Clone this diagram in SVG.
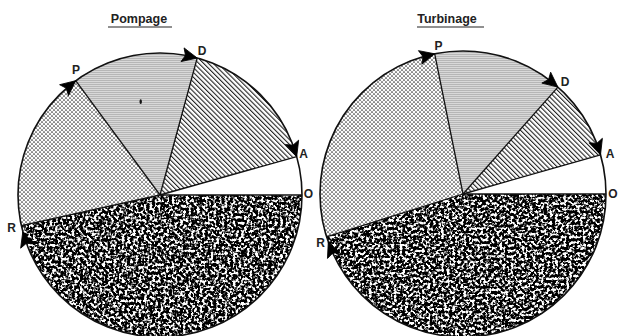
<svg xmlns="http://www.w3.org/2000/svg" width="618" height="336" viewBox="0 0 618 336">
<style>
.title{font-family:"Liberation Sans",Arial,sans-serif;font-weight:bold;font-size:12.5px;fill:#222;text-anchor:middle}
.lbl{font-family:"Liberation Sans",Arial,sans-serif;font-weight:bold;font-size:12px;fill:#222;text-anchor:middle}
.ul{stroke:#222;stroke-width:1.1}
.spoke{stroke:#111;stroke-width:1.3;fill:none}
.rim{stroke:#111;stroke-width:1.6;fill:none}
.white{fill:#fff}
.hatch{fill:url(#hatch)}
.light{fill:url(#light)}
.dots{fill:url(#dots)}
.arrow{fill:#000;stroke:#000;stroke-width:0.8;stroke-linejoin:round}
</style>
<defs>
<pattern id="hatch" width="3.4" height="3.4" patternUnits="userSpaceOnUse" patternTransform="rotate(-45)">
<rect width="3.4" height="3.4" fill="#fff"/>
<rect x="0" y="0" width="1.1" height="3.4" fill="#222"/>
</pattern>
<pattern id="light" width="4" height="2" patternUnits="userSpaceOnUse">
<rect width="4" height="2" fill="#d8d8d8"/>
<rect x="0" y="0" width="4" height="1" fill="#b6b6b6"/>
</pattern>
<pattern id="dots" width="4" height="4" patternUnits="userSpaceOnUse">
<rect width="4" height="4" fill="#fcfcfc"/>
<g fill="#333"><circle cx="0" cy="0" r="0.85"/><circle cx="4" cy="0" r="0.85"/><circle cx="0" cy="4" r="0.85"/><circle cx="4" cy="4" r="0.85"/><circle cx="2" cy="2" r="0.85"/></g>
</pattern>
<filter id="noise1" x="0" y="0" width="1" height="1" color-interpolation-filters="sRGB">
<feTurbulence type="fractalNoise" baseFrequency="0.36" numOctaves="2" seed="3" result="t"/>
<feColorMatrix in="t" type="matrix" values="1 0 0 0 0 1 0 0 0 0 1 0 0 0 0 0 0 0 0 1"/>
<feComponentTransfer><feFuncR type="linear" slope="6" intercept="-2.75"/><feFuncG type="linear" slope="6" intercept="-2.75"/><feFuncB type="linear" slope="6" intercept="-2.75"/></feComponentTransfer>
</filter>
<filter id="noise2" x="0" y="0" width="1" height="1" color-interpolation-filters="sRGB">
<feTurbulence type="fractalNoise" baseFrequency="0.36" numOctaves="2" seed="11" result="t"/>
<feColorMatrix in="t" type="matrix" values="1 0 0 0 0 1 0 0 0 0 1 0 0 0 0 0 0 0 0 1"/>
<feComponentTransfer><feFuncR type="linear" slope="6" intercept="-2.75"/><feFuncG type="linear" slope="6" intercept="-2.75"/><feFuncB type="linear" slope="6" intercept="-2.75"/></feComponentTransfer>
</filter>
<clipPath id="dark1"><path d="M160,195 L21.4,225.7 A142,142 0 0 0 302,195 Z"/></clipPath>
<clipPath id="dark2"><path d="M463,194 L326.5,236.8 A143,143 0 0 0 606,194 Z"/></clipPath>
<path id="arrow" class="arrow" d="M0,0 L-15,-7 L-12,0 L-15,7 Z"/>
</defs>
<rect width="618" height="336" fill="#fff"/>

<g id="pompage">
<text class="title" x="139" y="23">Pompage</text>
<line class="ul" x1="108" y1="27" x2="172" y2="27"/>
<path class="white" d="M160,195 L302,195 A142,142 0 0 0 296.7,156.6 Z"/>
<path class="hatch" d="M160,195 L296.7,156.6 A142,142 0 0 0 197.2,58 Z"/>
<path class="light" d="M160,195 L197.2,58 A142,142 0 0 0 75.7,80.7 Z"/>
<path class="dots" d="M160,195 L75.7,80.7 A142,142 0 0 0 21.4,225.7 Z"/>
<g clip-path="url(#dark1)"><rect x="16" y="190" width="290" height="150" fill="#000" filter="url(#noise1)"/></g>
<ellipse cx="140.7" cy="101.7" rx="1.2" ry="2.4" fill="#111"/>
<g class="spoke">
<line x1="160" y1="195" x2="302" y2="195"/>
<line x1="160" y1="195" x2="296.7" y2="156.6"/>
<line x1="160" y1="195" x2="197.2" y2="58"/>
<line x1="160" y1="195" x2="75.7" y2="80.7"/>
<line x1="160" y1="195" x2="21.4" y2="225.7"/>
</g>
<circle class="rim" cx="160" cy="195" r="142"/>
<use href="#arrow" transform="translate(75.7,80.7) rotate(-39)"/>
<use href="#arrow" transform="translate(197.2,58) rotate(12.6)"/>
<use href="#arrow" transform="translate(296.7,156.6) rotate(71.7)"/>
<use href="#arrow" transform="translate(22.8,231.8) rotate(-107.6)"/>
<text class="lbl" x="76" y="74">P</text>
<text class="lbl" x="202" y="55">D</text>
<text class="lbl" x="303.5" y="158">A</text>
<text class="lbl" x="308.5" y="198">O</text>
<text class="lbl" x="11.5" y="232">R</text>
</g>

<g id="turbinage">
<text class="title" x="447" y="23">Turbinage</text>
<line class="ul" x1="417" y1="27" x2="484" y2="27"/>
<path class="white" d="M463,194 L606,194 A143,143 0 0 0 600.5,154.8 Z"/>
<path class="hatch" d="M463,194 L600.5,154.8 A143,143 0 0 0 557.9,87.1 Z"/>
<path class="light" d="M463,194 L557.9,87.1 A143,143 0 0 0 434.7,53.8 Z"/>
<path class="dots" d="M463,194 L434.7,53.8 A143,143 0 0 0 326.5,236.8 Z"/>
<g clip-path="url(#dark2)"><rect x="318" y="189" width="292" height="150" fill="#000" filter="url(#noise2)"/></g>
<g class="spoke">
<line x1="463" y1="194" x2="606" y2="194"/>
<line x1="463" y1="194" x2="600.5" y2="154.8"/>
<line x1="463" y1="194" x2="557.9" y2="87.1"/>
<line x1="463" y1="194" x2="434.7" y2="53.8"/>
<line x1="463" y1="194" x2="326.5" y2="236.8"/>
</g>
<circle class="rim" cx="463" cy="194" r="143"/>
<use href="#arrow" transform="translate(434.7,53.8) rotate(-14)"/>
<use href="#arrow" transform="translate(557.9,87.1) rotate(39)"/>
<use href="#arrow" transform="translate(600.5,154.8) rotate(71.5)"/>
<use href="#arrow" transform="translate(328.3,241.9) rotate(-112.2)"/>
<text class="lbl" x="438.5" y="49.5">P</text>
<text class="lbl" x="565" y="86">D</text>
<text class="lbl" x="610" y="158">A</text>
<text class="lbl" x="613" y="198">O</text>
<text class="lbl" x="320.5" y="247">R</text>
</g>
</svg>
